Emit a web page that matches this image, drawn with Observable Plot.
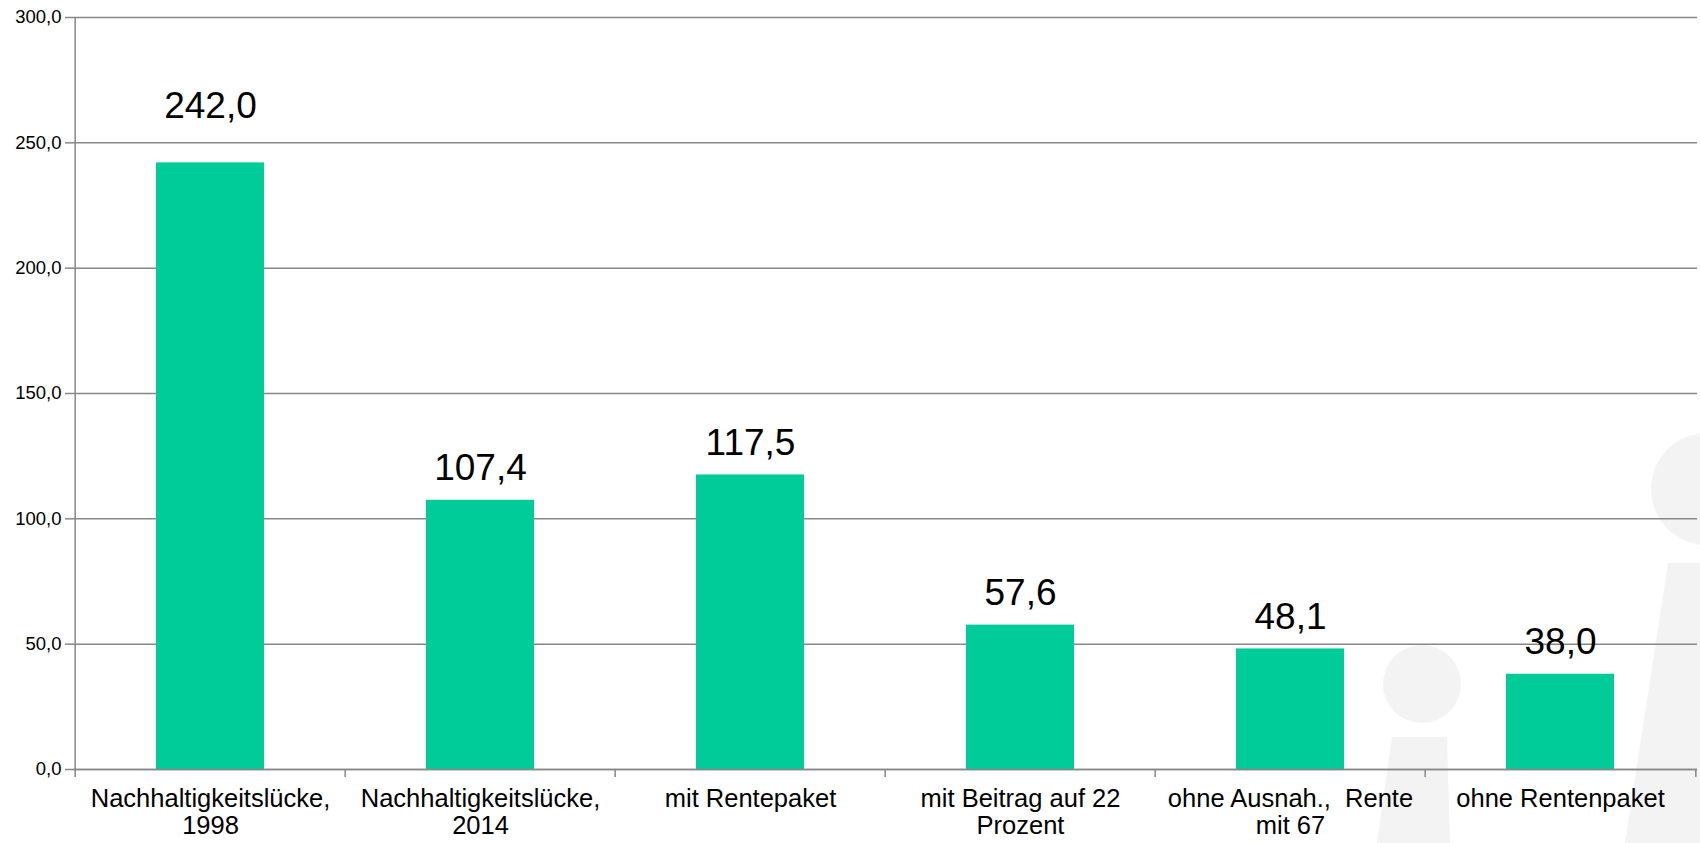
<!DOCTYPE html>
<html><head><meta charset="utf-8">
<script src="https://cdn.jsdelivr.net/npm/d3@7"></script>
<script src="https://cdn.jsdelivr.net/npm/@observablehq/plot@0.6"></script>
<style>
html,body{margin:0;padding:0;background:#fff;overflow:hidden}
#wrap{position:relative;width:1700px;height:843px;overflow:hidden}
.wm{position:absolute;background:#f3f3f3}
#chart{position:absolute;left:0;top:0}
</style></head><body>
<div id="wrap">
 <div class="wm" style="left:1383px;top:645px;width:78px;height:78px;border-radius:50%"></div>
 <div class="wm" style="left:1375px;top:737px;width:80px;height:106px;clip-path:polygon(17px 0,72px 0,75px 106px,2px 106px)"></div>
 <div class="wm" style="left:1651px;top:433px;width:112px;height:112px;border-radius:50%"></div>
 <div class="wm" style="left:1620px;top:563px;width:80px;height:280px;clip-path:polygon(48px 0,80px 0,80px 280px,5px 280px)"></div>
 <div id="chart"></div>
</div>
<script>
const categories = ["Nachhaltigkeitslücke,\n1998", "Nachhaltigkeitslücke,\n2014", "mit Rentepaket", "mit Beitrag auf 22\nProzent", "ohne Ausnah.,\u00a0 Rente\nmit 67", "ohne Rentenpaket"];
const values = [242.0, 107.4, 117.5, 57.6, 48.1, 38.0];
const yTicks = [0, 50, 100, 150, 200, 250, 300];

const data = categories.map((c, i) => ({category: c, value: values[i]}));
const fmt = v => v.toFixed(1).replace(".", ",");
const W = 1700, H = 843, mL = 73, mR = 3, mT = 17, mB = 74;
const step = (W - mL - mR) / categories.length;
const gray = "#878787";
const tickLen = 8 * 300 / (H - mT - mB);

const chart = Plot.plot({
  width: W, height: H,
  marginLeft: mL, marginRight: mR, marginTop: mT, marginBottom: mB,
  style: {fontFamily: "'Liberation Sans', Arial, sans-serif", background: "transparent", color: "#000", overflow: "visible"},
  x: {domain: categories, paddingInner: 0.6, paddingOuter: 0.3, axis: null},
  y: {domain: [0, 300], axis: null},
  marks: [
    Plot.gridY(yTicks, {stroke: gray, strokeOpacity: 1, strokeWidth: 1.5}),
    Plot.axisY(yTicks, {tickSize: 8, tickPadding: 4, tickFormat: fmt, fontSize: 18.5, stroke: gray, strokeWidth: 1.5, fill: "#000", label: null}),
    Plot.barY(data, {x: "category", y: "value", fill: "#00cc99"}),
    Plot.ruleY([0], {stroke: gray, strokeWidth: 1.5}),
    Plot.ruleX(categories, {x: d => d, dx: -step / 2, y1: -tickLen, y2: d => d === categories[0] ? 300 : 0, stroke: gray, strokeWidth: 1.5}),
    Plot.ruleX([categories[categories.length - 1]], {x: d => d, dx: step / 2, y1: -tickLen, y2: 0, stroke: gray, strokeWidth: 1.5}),
    Plot.text(categories, {x: d => d, frameAnchor: "bottom", lineAnchor: "top", dy: 18, fontSize: 25.5, lineHeight: 1.06, fill: "#000"}),
    Plot.text(data, {filter: d => d !== data[0], x: "category", y: "value", text: d => fmt(d.value), dy: -32, fontSize: 37, lineAnchor: "middle", fill: "#000"}),
    Plot.text(data, {filter: d => d === data[0], x: "category", y: "value", text: d => fmt(d.value), dy: -57, fontSize: 37, lineAnchor: "middle", fill: "#000"})
  ]
});
document.getElementById("chart").appendChild(chart);
</script>
</body></html>
